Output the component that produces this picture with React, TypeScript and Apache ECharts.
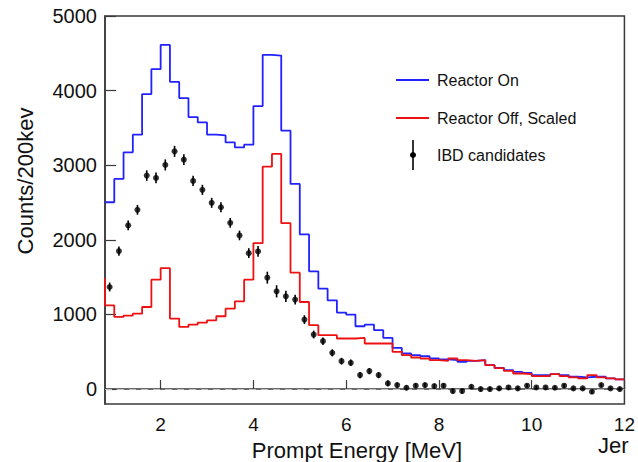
import React, { useEffect, useRef } from "react";
import * as echarts from "echarts";

// Histogram binning (200 keV bins from 0.8 to 12.0 MeV)
const BIN_START = 0.8;
const BIN_WIDTH = 0.2;

// Reactor On histogram (counts per bin)
const reactorOn = [
  2504, 2817, 3173, 3409, 3953, 4287, 4612, 4118, 3900, 3646,
  3574, 3409, 3400, 3306, 3239, 3275, 3793, 4479, 4470, 3463,
  2750, 2072, 1578, 1346, 1190, 1025, 998, 842, 865, 789,
  686, 552, 477, 455, 441, 410, 397, 388, 365, 379,
  388, 321, 285, 254, 231, 218, 187, 187, 200, 187,
  165, 156, 165, 165, 143, 129,
];

// Reactor Off (scaled) histogram
const reactorOffUnderflow = 1480; // bin just left of the axis range (0.6-0.8)
const reactorOff = [
  1123, 967, 985, 1011, 1100, 1466, 1622, 945, 833, 865,
  891, 922, 976, 1078, 1176, 1466, 1956, 2981, 3151, 2223,
  1560, 1167, 856, 722, 722, 678, 678, 686, 611, 611,
  611, 499, 455, 423, 410, 388, 379, 410, 388, 379,
  388, 321, 281, 245, 209, 200, 174, 174, 200, 174,
  156, 143, 187, 156, 143, 129,
];

// IBD candidates (points at bin centres) and their errors
const ibd = [
  1368, 1849, 2193, 2402, 2861, 2830, 3004, 3186, 3075, 2790,
  2670, 2496, 2437, 2228, 2059, 1822, 1845, 1493, 1310, 1243,
  1199, 931, 731, 642, 486, 374, 352, 187, 241, 187,
  76, 53, 18, 45, 53, 40, 45, -27, -27, 31,
  0, 0, 9, 22, 9, 45, 22, 22, 18, 45,
  9, 9, -36, 53, 9, 0,
];
const ibdErr = [
  60, 62, 65, 66, 70, 72, 74, 74, 72, 70,
  68, 67, 66, 65, 65, 66, 72, 80, 82, 75,
  65, 58, 52, 50, 47, 45, 44, 42, 42, 40,
  38, 36, 34, 33, 33, 32, 32, 32, 31, 31,
  31, 30, 29, 28, 28, 27, 26, 26, 26, 26,
  25, 25, 25, 25, 24, 24,
];

const xTicks = [2, 4, 6, 8, 10, 12];
const yTicks = [0, 1000, 2000, 3000, 4000, 5000];

const FONT = "'Liberation Sans', Arial, Helvetica, sans-serif";
const BLUE = "#2222ff";
const RED = "#ee1111";
const AXIS = "#3a3a3a";

function edge(i: number) {
  return +(BIN_START + i * BIN_WIDTH).toFixed(3);
}

function stepData(vals: number[], under?: number) {
  const pts: number[][] = [];
  if (under !== undefined) pts.push([edge(-1), under]);
  vals.forEach((v, i) => pts.push([edge(i), v]));
  pts.push([edge(vals.length), vals[vals.length - 1]]);
  return pts;
}

export default function App() {
  const ref = useRef<HTMLDivElement>(null);

  useEffect(() => {
    if (!ref.current) return;
    const chart = echarts.init(ref.current, undefined, { renderer: "svg" });

    const points = ibd.map((v, i) => [+(edge(i) + BIN_WIDTH / 2).toFixed(3), v]);
    const errData = ibd.map((v, i) => [+(edge(i) + BIN_WIDTH / 2).toFixed(3), v, ibdErr[i]]);

    chart.setOption({
      animation: false,
      backgroundColor: "#ffffff",
      grid: {
        left: 105,
        right: 11,
        top: 16,
        bottom: 58,
        show: true,
        borderColor: AXIS,
        borderWidth: 1.5,
        backgroundColor: "transparent",
      },
      xAxis: {
        type: "value",
        min: 0.8,
        max: 12,
        axisLine: { show: true, lineStyle: { color: AXIS, width: 1.5 } },
        axisTick: {
          show: true,
          inside: true,
          length: 9,
          customValues: xTicks,
          lineStyle: { color: AXIS, width: 1.2 },
        },
        axisLabel: {
          customValues: xTicks,
          fontSize: 19,
          color: "#111",
          fontFamily: FONT,
          margin: 11,
          formatter: (v: number) => String(v),
        },
        splitLine: { show: false },
      },
      yAxis: {
        type: "value",
        min: -200,
        max: 5000,
        axisLine: { show: true, lineStyle: { color: AXIS, width: 1.5 } },
        axisTick: {
          show: true,
          inside: true,
          length: 11,
          customValues: yTicks,
          lineStyle: { color: AXIS, width: 1.2 },
        },
        axisLabel: {
          customValues: yTicks,
          fontSize: 20,
          color: "#111",
          fontFamily: FONT,
          margin: 8,
          formatter: (v: number) => String(v),
        },
        splitLine: { show: false },
      },
      series: [
        {
          name: "Reactor On",
          type: "line",
          step: "end",
          symbol: "none",
          data: stepData(reactorOn),
          lineStyle: { color: BLUE, width: 1.8 },
          clip: true,
          z: 3,
          markLine: {
            silent: true,
            symbol: "none",
            label: { show: false },
            lineStyle: { type: [7, 5], color: "#c0c0c0", width: 1 },
            data: [{ yAxis: 0 }],
          },
        },
        {
          name: "Reactor Off, Scaled",
          type: "line",
          step: "end",
          symbol: "none",
          data: stepData(reactorOff, reactorOffUnderflow),
          lineStyle: { color: RED, width: 1.8 },
          clip: true,
          z: 4,
        },
        {
          name: "IBD errors",
          type: "custom",
          data: errData,
          encode: { x: 0, y: 1 },
          z: 5,
          renderItem: (params: any, api: any) => {
            const x = api.value(0);
            const y = api.value(1);
            const e = api.value(2);
            const p1 = api.coord([x, y - e]);
            const p2 = api.coord([x, y + e]);
            return {
              type: "line",
              shape: { x1: p1[0], y1: p1[1], x2: p2[0], y2: p2[1] },
              style: { stroke: "#000", lineWidth: 1.6 },
            };
          },
        },
        {
          name: "IBD candidates",
          type: "scatter",
          data: points,
          symbol: "circle",
          symbolSize: 6,
          itemStyle: { color: "#000" },
          z: 6,
        },
      ],
      graphic: [
        {
          type: "text",
          x: 25,
          y: 181,
          rotation: Math.PI / 2,
          style: {
            text: "Counts/200kev",
            fontSize: 22,
            fontFamily: FONT,
            fill: "#111",
            align: "center",
            verticalAlign: "middle",
          },
        },
        {
          type: "text",
          x: 357,
          y: 450,
          style: {
            text: "Prompt Energy [MeV]",
            fontSize: 22,
            fontFamily: FONT,
            fill: "#111",
            align: "center",
            verticalAlign: "middle",
          },
        },
        {
          type: "text",
          x: 598,
          y: 434,
          style: {
            text: "Jer",
            fontSize: 22,
            fontFamily: FONT,
            fill: "#111",
            align: "left",
            verticalAlign: "top",
          },
        },
        {
          type: "line",
          shape: { x1: 396, y1: 80, x2: 429, y2: 80 },
          style: { stroke: BLUE, lineWidth: 1.8 },
        },
        {
          type: "text",
          x: 437,
          y: 80,
          style: {
            text: "Reactor On",
            fontSize: 16,
            fontFamily: FONT,
            fill: "#111",
            verticalAlign: "middle",
          },
        },
        {
          type: "line",
          shape: { x1: 396, y1: 118, x2: 429, y2: 118 },
          style: { stroke: RED, lineWidth: 1.8 },
        },
        {
          type: "text",
          x: 437,
          y: 118,
          style: {
            text: "Reactor Off, Scaled",
            fontSize: 16,
            fontFamily: FONT,
            fill: "#111",
            verticalAlign: "middle",
          },
        },
        {
          type: "line",
          shape: { x1: 413, y1: 140, x2: 413, y2: 170 },
          style: { stroke: "#000", lineWidth: 1.6 },
        },
        {
          type: "circle",
          shape: { cx: 413, cy: 155, r: 3 },
          style: { fill: "#000" },
        },
        {
          type: "text",
          x: 437,
          y: 155,
          style: {
            text: "IBD candidates",
            fontSize: 16,
            fontFamily: FONT,
            fill: "#111",
            verticalAlign: "middle",
          },
        },
      ],
    });

    return () => chart.dispose();
  }, []);

  return <div ref={ref} style={{ width: 638, height: 462, position: "absolute", left: 0, top: 0 }} />;
}
